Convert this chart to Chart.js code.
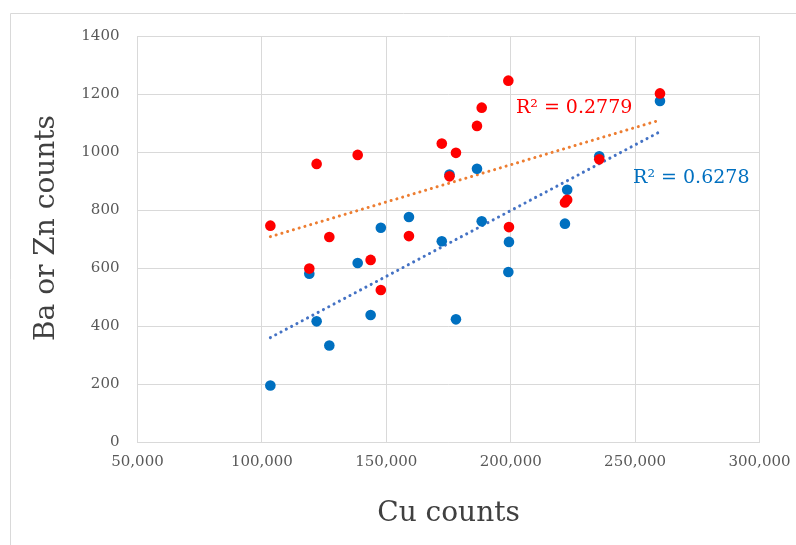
<!DOCTYPE html>
<html>
<head>
<meta charset="utf-8">
<script src="https://cdn.jsdelivr.net/npm/chart.js@4.4.1/dist/chart.umd.min.js"></script>
<style>
  html, body { margin: 0; padding: 0; background: #fff; }
  canvas { display: block; }
</style>
</head>
<body>
<canvas id="cuChart" width="796" height="545"></canvas>
<script>
// Cu counts shared by both series (one sample per entry)
const cuCounts = [103400, 119050, 122000, 127100, 138500, 143700, 147800, 159100, 172300, 175400,
                  178000, 186450, 188350, 199050, 199300, 221800, 222700, 235600, 260000];
const blueCounts = [195, 580, 416, 333, 617, 438, 739, 776, 692, 922,
                    423, 942, 761, 586, 690, 753, 870, 985, 1176];
const redCounts = [746, 598, 959, 707, 990, 628, 524, 710, 1029, 916,
                   997, 1090, 1153, 1246, 741, 826, 835, 975, 1202];

// linear trendline end points
const trendX = [103400, 260000];
const blueTrend = [360, 1070];
const redTrend = [708, 1110];

const xTicks = [50000, 100000, 150000, 200000, 250000, 300000];
const yTicks = [0, 200, 400, 600, 800, 1000, 1200, 1400];

const r2Labels = [
  { text: 'R² = 0.2779', x: 202100, y: 1152, color: '#ff0000' },
  { text: 'R² = 0.6278', x: 249200, y: 910, color: '#0070c0' },
];

function toPoints(xs, ys) {
  return xs.map((x, i) => ({ x: x, y: ys[i] }));
}

const serif = 'DejaVu Serif';

// outer frame, y axis title and R² text
const decorations = {
  id: 'decorations',
  beforeDraw(chart) {
    const ctx = chart.ctx;
    ctx.save();
    ctx.strokeStyle = '#d9d9d9';
    ctx.lineWidth = 1;
    ctx.beginPath();
    ctx.moveTo(10.5, 560);
    ctx.lineTo(10.5, 13.5);
    ctx.lineTo(800, 13.5);
    ctx.stroke();
    ctx.restore();
  },
  afterDraw(chart) {
    const ctx = chart.ctx;
    const xs = chart.scales.x;
    const ys = chart.scales.y;
    ctx.save();
    ctx.fillStyle = '#404040';
    ctx.font = '28px "' + serif + '"';
    ctx.textAlign = 'center';
    ctx.textBaseline = 'middle';
    ctx.translate(47, 228);
    ctx.rotate(-Math.PI / 2);
    ctx.fillText('Ba or Zn counts', 0, 0);
    ctx.restore();

    ctx.save();
    ctx.font = '19px "' + serif + '"';
    ctx.textAlign = 'left';
    ctx.textBaseline = 'middle';
    r2Labels.forEach((l) => {
      ctx.fillStyle = l.color;
      ctx.fillText(l.text, xs.getPixelForValue(l.x), ys.getPixelForValue(l.y));
    });
    ctx.restore();
  },
};

const ctx = document.getElementById('cuChart').getContext('2d');
const cuChart = new Chart(ctx, {
  type: 'scatter',
  data: {
    datasets: [
      {
        label: 'Red',
        data: toPoints(cuCounts, redCounts),
        backgroundColor: '#ff0000',
        borderWidth: 0,
        pointRadius: 5.3,
      },
      {
        label: 'Blue',
        data: toPoints(cuCounts, blueCounts),
        backgroundColor: '#0070c0',
        borderWidth: 0,
        pointRadius: 5.3,
      },
      {
        label: 'Red trend',
        type: 'line',
        data: toPoints(trendX, redTrend),
        borderColor: '#ed7d31',
        borderWidth: 3,
        borderCapStyle: 'round',
        borderDash: [0.1, 5.9],
        pointRadius: 0,
        fill: false,
      },
      {
        label: 'Blue trend',
        type: 'line',
        data: toPoints(trendX, blueTrend),
        borderColor: '#4472c4',
        borderWidth: 3,
        borderCapStyle: 'round',
        borderDash: [0.1, 5.9],
        pointRadius: 0,
        fill: false,
      },
    ],
  },
  options: {
    responsive: false,
    animation: false,
    layout: { padding: { left: 10, top: 36, right: 36.5, bottom: 0 } },
    plugins: {
      legend: { display: false },
      tooltip: { enabled: false },
    },
    scales: {
      x: {
        type: 'linear',
        min: 50000,
        max: 300000,
        afterBuildTicks: (scale) => {
          scale.ticks = xTicks.map((v) => ({ value: v }));
        },
        afterFit: (scale) => {
          scale.height = 103;
          scale.paddingLeft = 0;
          scale.paddingRight = 0;
        },
        ticks: {
          color: '#595959',
          font: { family: serif, size: 15 },
          padding: 11,
          maxRotation: 0,
          callback: (v) => v.toLocaleString('en-US'),
        },
        grid: { color: '#d9d9d9', lineWidth: 1, drawTicks: false },
        border: { color: '#d9d9d9' },
        title: {
          display: true,
          text: 'Cu counts',
          color: '#404040',
          font: { family: serif, size: 28 },
          padding: { top: 0, bottom: 14 },
        },
      },
      y: {
        type: 'linear',
        min: 0,
        max: 1400,
        afterBuildTicks: (scale) => {
          scale.ticks = yTicks.map((v) => ({ value: v }));
        },
        afterFit: (scale) => {
          scale.width = 127.5;
        },
        ticks: {
          color: '#595959',
          font: { family: serif, size: 15 },
          padding: 18,
          callback: (v) => String(v),
        },
        grid: { color: '#d9d9d9', lineWidth: 1, drawTicks: false },
        border: { color: '#d9d9d9' },
      },
    },
  },
  plugins: [decorations],
});
</script>
</body>
</html>
